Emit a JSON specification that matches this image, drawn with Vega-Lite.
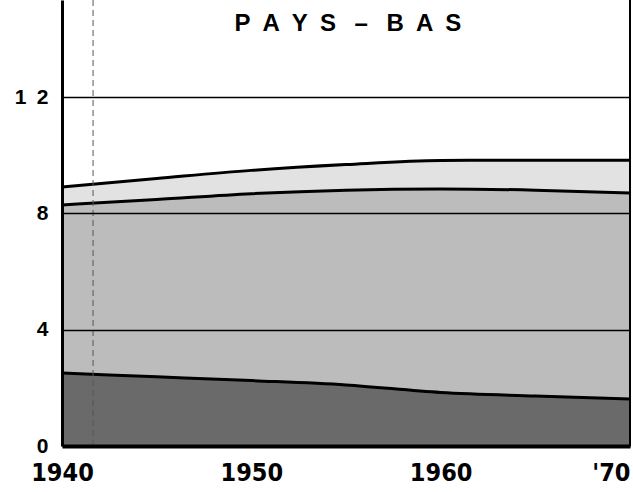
{
  "$schema": "https://vega.github.io/schema/vega-lite/v6.json",
  "width": 568,
  "height": 446,
  "autosize": {"type": "none"},
  "padding": {"left": 62, "top": 0, "right": 3, "bottom": 46},
  "background": "white",
  "config": {"view": {"stroke": null}},
  "datasets": {
    "series": [
      {"year": 1940, "c": 2.51, "d": 8.29, "t": 8.91},
      {"year": 1945, "c": 2.38, "d": 8.48, "t": 9.2},
      {"year": 1950, "c": 2.25, "d": 8.68, "t": 9.48},
      {"year": 1955, "c": 2.1, "d": 8.8, "t": 9.68},
      {"year": 1960, "c": 1.84, "d": 8.84, "t": 9.82},
      {"year": 1965, "c": 1.72, "d": 8.8, "t": 9.83},
      {"year": 1970, "c": 1.62, "d": 8.7, "t": 9.83}
    ],
    "heading": [
      {"year": 1955.1, "v": 14.52, "label": "P\u2002A\u2002Y\u2002S\u2002 \u2013\u2002 B\u2002A\u2002S"}
    ]
  },
  "data": {"name": "series"},
  "encoding": {
    "x": {
      "field": "year",
      "type": "quantitative",
      "title": null,
      "scale": {"domain": [1940, 1970], "nice": false, "zero": false},
      "axis": {
        "values": [1940, 1950, 1960, 1970],
        "format": "d",
        "labelExpr": "datum.value == 1970 ? \"'70\" : datum.label",
        "labelAlign": {"condition": {"test": "datum.value == 1970", "value": "right"}, "value": "center"},
        "labelFont": "DejaVu Sans Condensed, sans-serif",
        "labelFontWeight": "bold",
        "labelFontSize": 25,
        "labelColor": "black",
        "labelPadding": 14,
        "ticks": false,
        "grid": false,
        "domain": true,
        "domainColor": "black",
        "domainWidth": 4,
        "zindex": 1
      }
    }
  },
  "layer": [
    {
      "mark": {"type": "area", "interpolate": "monotone", "color": "#e2e2e2"},
      "encoding": {
        "y": {
          "field": "t",
          "type": "quantitative",
          "title": null,
          "scale": {"domain": [0, 15.34], "nice": false},
          "axis": {
            "values": [0, 4, 8, 12],
            "grid": true,
            "gridColor": "black",
            "gridWidth": 1.3,
            "gridOpacity": 1,
            "domain": true,
            "domainColor": "black",
            "domainWidth": 3,
            "ticks": false,
            "labelFont": "Liberation Sans",
            "labelFontWeight": "bold",
            "labelFontSize": 21,
            "labelColor": "black",
            "labelPadding": 14,
            "labelExpr": "datum.value == 12 ? '1\u20022' : datum.label",
            "zindex": 1
          }
        }
      }
    },
    {
      "mark": {"type": "area", "interpolate": "monotone", "color": "#bcbcbc"},
      "encoding": {"y": {"field": "d", "type": "quantitative", "title": null}}
    },
    {
      "mark": {"type": "area", "interpolate": "monotone", "color": "#6a6a6a"},
      "encoding": {"y": {"field": "c", "type": "quantitative", "title": null}}
    },
    {
      "mark": {"type": "line", "interpolate": "monotone", "color": "black", "strokeWidth": 3},
      "encoding": {"y": {"field": "t", "type": "quantitative", "title": null}}
    },
    {
      "mark": {"type": "line", "interpolate": "monotone", "color": "black", "strokeWidth": 3},
      "encoding": {"y": {"field": "d", "type": "quantitative", "title": null}}
    },
    {
      "mark": {"type": "line", "interpolate": "monotone", "color": "black", "strokeWidth": 3},
      "encoding": {"y": {"field": "c", "type": "quantitative", "title": null}}
    },
    {
      "data": {"values": [{"year": 1970}]},
      "mark": {"type": "rule", "color": "black", "strokeWidth": 2},
      "encoding": {"x": {"field": "year", "type": "quantitative"}}
    },
    {
      "data": {"values": [{"year": 1941.64}]},
      "mark": {"type": "rule", "color": "#555", "strokeWidth": 1, "strokeDash": [6, 4]},
      "encoding": {"x": {"field": "year", "type": "quantitative"}}
    },
    {
      "data": {"name": "heading"},
      "mark": {"type": "text", "font": "Liberation Sans", "fontSize": 24, "fontWeight": "bold", "color": "black", "align": "center", "baseline": "middle"},
      "encoding": {
        "x": {"field": "year", "type": "quantitative"},
        "y": {"field": "v", "type": "quantitative", "title": null},
        "text": {"field": "label"}
      }
    }
  ]
}
